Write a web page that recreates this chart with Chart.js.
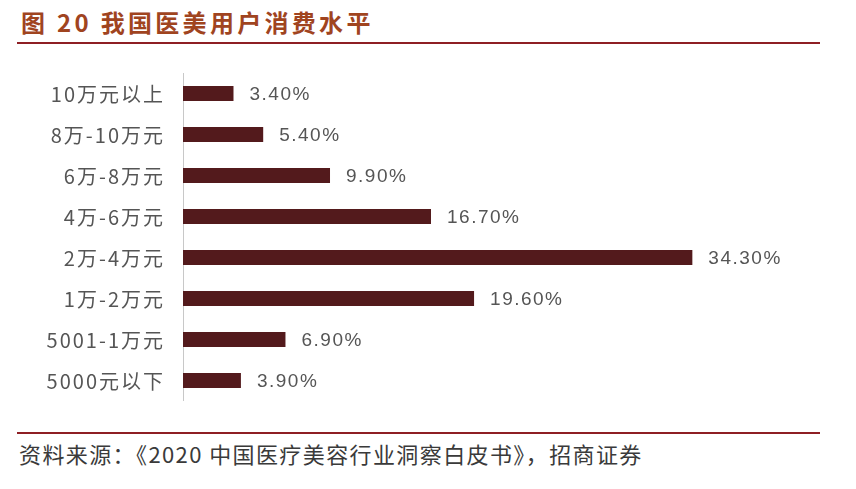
<!DOCTYPE html>
<html>
<head>
<meta charset="utf-8">
<script src="https://cdn.jsdelivr.net/npm/chart.js@4"></script>
<style>
  body { margin: 0; background: #fff; width: 856px; height: 489px; position: relative; overflow: hidden;
         font-family: "Noto Sans CJK SC", "Noto Sans", sans-serif; }
  #titulo { position: absolute; left: 21px; top: 7px; font-size: 24px; line-height: 30px; font-weight: bold; color: #a0441f; letter-spacing: 3.3px; white-space: nowrap; }
  .linea { position: absolute; left: 17px; width: 803px; height: 2px; background: #8e1f24; }
  #fuente { position: absolute; left: 19px; top: 440px; font-size: 22px; line-height: 26px; color: #3a3a3a; letter-spacing: 1.4px; white-space: nowrap; }
  #caja { position: absolute; left: 0; top: 73px; width: 856px; height: 328px; }
</style>
</head>
<body>
<div id="titulo">图 20 我国医美用户消费水平</div>
<div class="linea" style="top:42px"></div>
<div id="caja"><canvas id="grafica"></canvas></div>
<div class="linea" style="top:432px"></div>
<div id="fuente">资料来源：《2020 中国医疗美容行业洞察白皮书》，招商证券</div>
<script>
// Datos (de arriba hacia abajo)
const categorias = ["10万元以上", "8万-10万元", "6万-8万元", "4万-6万元", "2万-4万元", "1万-2万元", "5001-1万元", "5000元以下"];
const porcentajes = [3.4, 5.4, 9.9, 16.7, 34.3, 19.6, 6.9, 3.9];

// Etiquetas: categorías a la izquierda del eje y valores al final de cada barra
const etiquetas = {
  id: 'etiquetas',
  afterDatasetsDraw(chart) {
    const ctx = chart.ctx;
    const escalaY = chart.scales.y;
    const meta = chart.getDatasetMeta(0);
    ctx.save();
    ctx.textBaseline = 'middle';
    ctx.fillStyle = '#555';

    // nombres de categoría, alineados a la derecha
    ctx.font = '20px "Noto Sans CJK SC", sans-serif';
    ctx.letterSpacing = '2px';
    ctx.textAlign = 'right';
    categorias.forEach((c, i) => {
      ctx.fillText(c, escalaY.left + escalaY.width - 18, escalaY.getPixelForValue(i) + 1);
    });

    // porcentajes
    ctx.font = '19px "Liberation Sans", sans-serif';
    ctx.letterSpacing = '1.5px';
    ctx.textAlign = 'left';
    meta.data.forEach((barra, i) => {
      ctx.fillText(porcentajes[i].toFixed(2) + '%', barra.x + 16, barra.y + 1);
    });
    ctx.restore();
  }
};

new Chart(document.getElementById('grafica'), {
  type: 'bar',
  data: {
    labels: categorias,
    datasets: [{
      data: porcentajes,
      backgroundColor: '#531a1c',
      barPercentage: 0.37,
      categoryPercentage: 1
    }]
  },
  options: {
    indexAxis: 'y',
    responsive: true,
    maintainAspectRatio: false,
    animation: false,
    layout: { padding: { right: 79, top: 0, bottom: 0, left: 0 } },
    plugins: { legend: { display: false }, tooltip: { enabled: false } },
    scales: {
      x: { display: false, min: 0, max: 40 },
      y: {
        afterFit(scale) { scale.width = 183; },
        grid: { display: false, drawTicks: false },
        border: { display: true, color: '#c8c8c8', width: 1 },
        ticks: { display: false }
      }
    }
  },
  plugins: [etiquetas]
});
</script>
</body>
</html>
